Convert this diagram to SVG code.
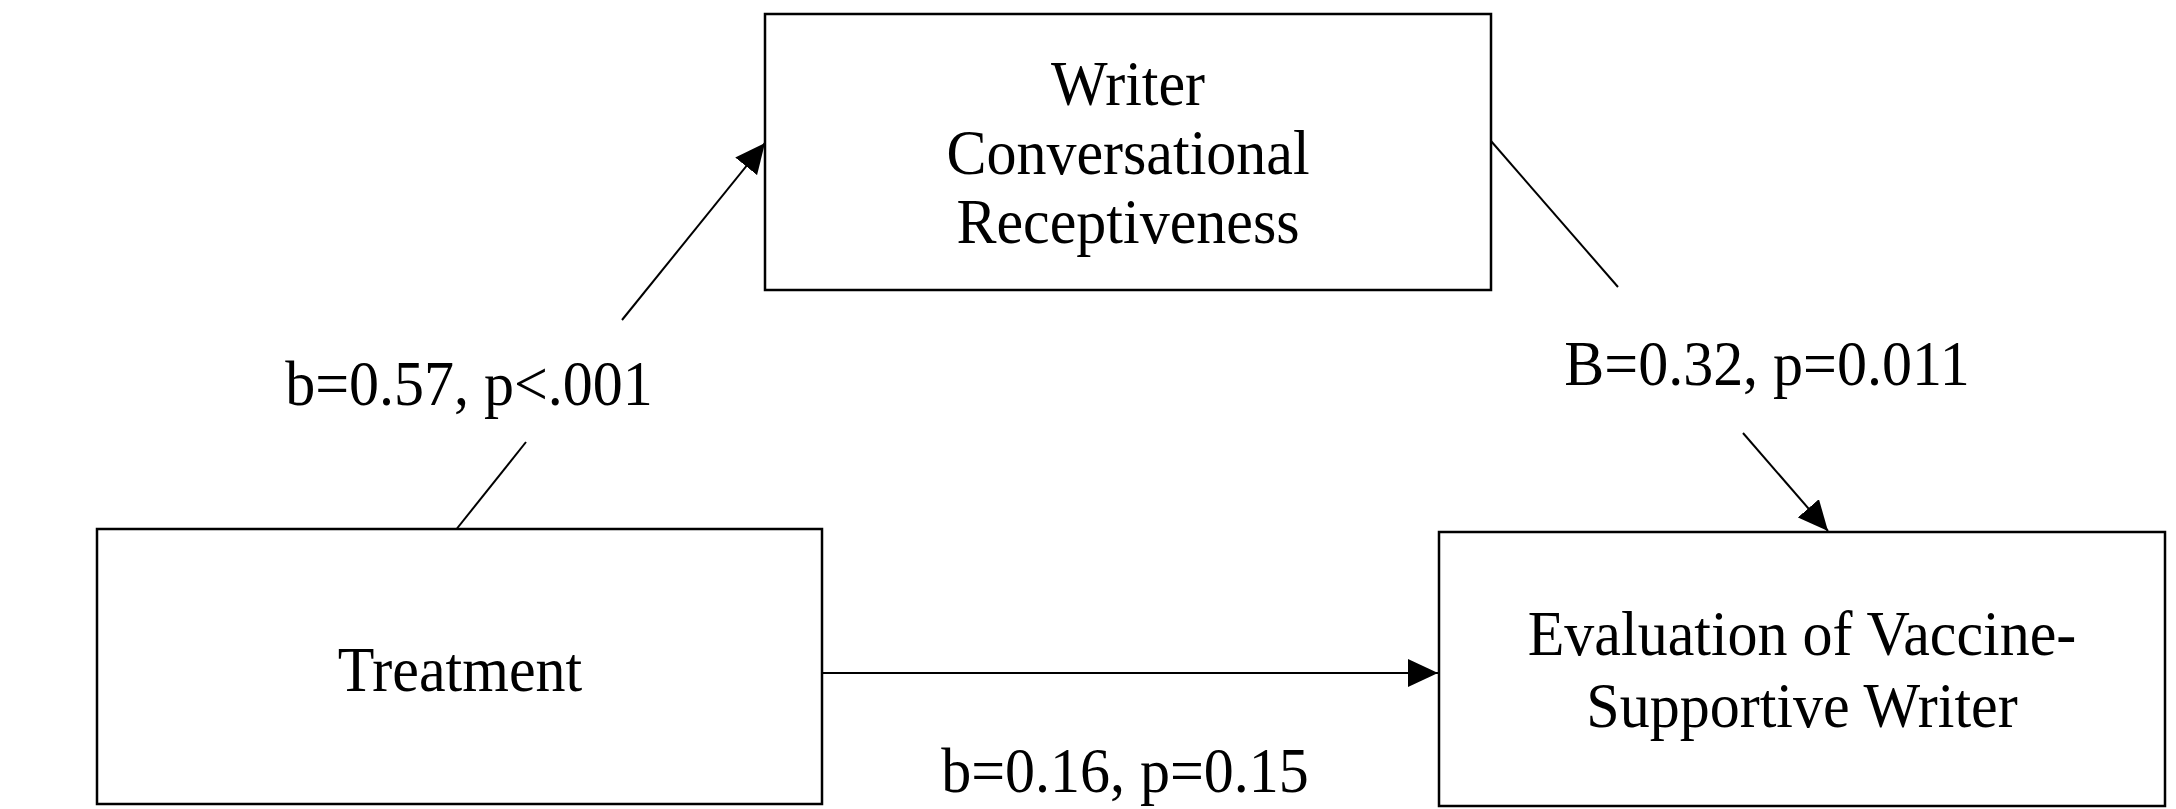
<svg xmlns="http://www.w3.org/2000/svg" width="2176" height="809" viewBox="0 0 2176 809">
<style>
.box{fill:#fff;stroke:#000;stroke-width:2.5}
.ln{fill:none;stroke:#000;stroke-width:2}
.t{font-family:"Liberation Serif","Times New Roman",serif;font-size:60px;fill:#000;text-anchor:middle}
</style>
<defs>
<marker id="ah" viewBox="0 0 30 28" refX="30" refY="14" markerWidth="30" markerHeight="28" markerUnits="userSpaceOnUse" orient="auto">
<path d="M0,0 L30,14 L0,28 Z" fill="#000"/>
</marker>
</defs>
<rect width="2176" height="809" fill="#fff"/>
<g id="connectors">
<line class="ln" x1="455" y1="531" x2="526" y2="442"/>
<line class="ln" x1="622" y1="320" x2="765" y2="143" marker-end="url(#ah)"/>
<line class="ln" x1="1491" y1="141" x2="1618" y2="287"/>
<line class="ln" x1="1743" y1="433" x2="1828" y2="531" marker-end="url(#ah)"/>
<line class="ln" x1="822" y1="673" x2="1438" y2="673" marker-end="url(#ah)"/>
<text class="t" transform="translate(469,405) scale(1,1.07)">b=0.57, p&lt;.001</text>
<text class="t" transform="translate(1767,385) scale(1,1.07)">B=0.32, p=0.011</text>
<text class="t" transform="translate(1125,792) scale(1,1.07)">b=0.16, p=0.15</text>
</g>
<g id="mediator">
<rect class="box" x="765" y="14" width="726" height="276"/>
<text class="t" transform="translate(1128,105) scale(1,1.07)">Writer</text>
<text class="t" transform="translate(1128,174) scale(1,1.07)">Conversational</text>
<text class="t" transform="translate(1128,243) scale(1,1.07)">Receptiveness</text>
</g>
<g id="treatment">
<rect class="box" x="97" y="529" width="725" height="275"/>
<text class="t" transform="translate(460,691) scale(1,1.07)">Treatment</text>
</g>
<g id="evaluation">
<rect class="box" x="1439" y="532" width="726" height="274"/>
<text class="t" transform="translate(1802,655) scale(1,1.07)">Evaluation of Vaccine-</text>
<text class="t" transform="translate(1802,727) scale(1,1.07)">Supportive Writer</text>
</g>
</svg>
